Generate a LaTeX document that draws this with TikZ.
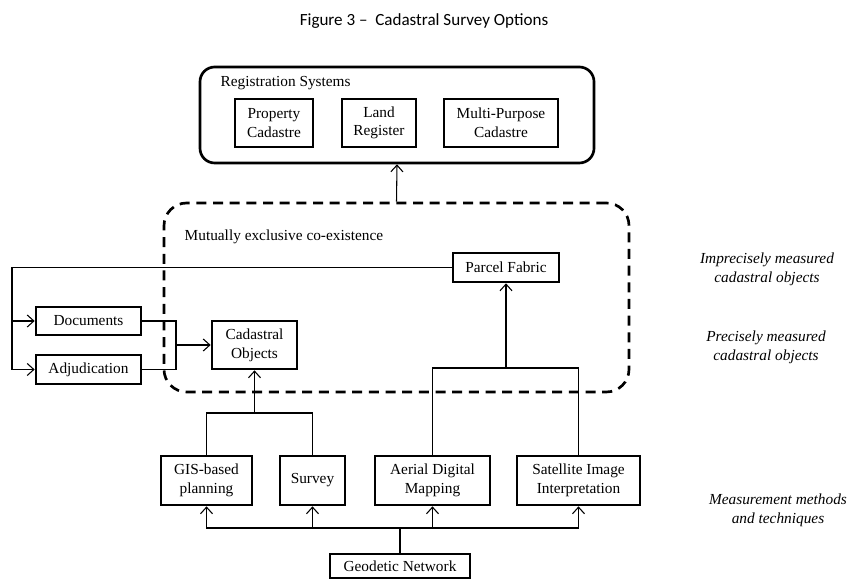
\documentclass[tikz,border=0pt]{standalone}
\usepackage{fontspec}
\setmainfont{Liberation Serif}
\newfontfamily\titlefont{Carlito}
\usetikzlibrary{arrows.meta}
\tikzset{
  box/.style={draw, line width=2pt, inner sep=0pt, align=center,
    font=\fontsize{11.5}{14}\selectfont},
  link/.style={line width=0.8pt},
  arr/.style={link, -{Straight Barb[length=5pt,width=9pt,line width=0.8pt]}},
  sidenote/.style={align=center, font=\fontsize{11.5}{14}\selectfont\itshape},
  plain/.style={font=\fontsize{11.5}{14}\selectfont}
}
\begin{document}
\begin{tikzpicture}[x=0.75pt,y=-0.75pt]
\useasboundingbox (0,0) rectangle (849,580);

% title
\node[font=\titlefont\fontsize{12.8}{15}\selectfont] (title) at (424,21) {Figure 3 –\ \ Cadastral Survey Options};

% registration systems
\node[draw, line width=2pt, rounded corners=11pt, minimum width=394*0.75pt,
      minimum height=96*0.75pt] (reg) at (397,115) {};
\node[plain, anchor=west] (reglbl) at (216,83) {Registration Systems};
\node[box, minimum width=78*0.75pt, minimum height=48*0.75pt] (prop) at (274,123) {Property\\Cadastre};
\node[box, minimum width=74*0.75pt, minimum height=48*0.75pt] (land) at (379,123) {Land\\Register};
\node[box, minimum width=114*0.75pt, minimum height=48*0.75pt] (multi) at (501,123) {Multi-Purpose\\Cadastre};

% co-existence area
\node[draw, line width=2pt, dash pattern=on 7.5pt off 5pt, rounded corners=17pt,
      minimum width=465*0.75pt, minimum height=189*0.75pt] (coex) at (396.5,297.5) {};
\node[plain, anchor=west] (coexlbl) at (180,237) {Mutually exclusive co-existence};

\node[box, minimum width=106*0.75pt, minimum height=29*0.75pt] (parcel) at (506,267.5) {Parcel Fabric};
\node[box, minimum width=85*0.75pt, minimum height=48*0.75pt] (cad) at (254.5,345) {Cadastral\\Objects};
\node[box, minimum width=105*0.75pt, minimum height=28*0.75pt] (docs) at (88.5,321) {Documents};
\node[box, minimum width=105*0.75pt, minimum height=29*0.75pt] (adj) at (88.5,369.5) {Adjudication};

% measurement methods
\node[box, minimum width=91*0.75pt, minimum height=49*0.75pt] (gis) at (206.5,480.5) {GIS-based\\planning};
\node[box, minimum width=65*0.75pt, minimum height=49*0.75pt] (survey) at (312.5,480.5) {Survey};
\node[box, minimum width=115*0.75pt, minimum height=49*0.75pt] (aerial) at (432.5,480.5) {Aerial Digital\\Mapping};
\node[box, minimum width=123*0.75pt, minimum height=49*0.75pt] (sat) at (578.5,480.5) {Satellite Image\\Interpretation};
\node[box, minimum width=140*0.75pt, minimum height=24*0.75pt] (geo) at (400,566) {Geodetic Network};

% side notes
\node[sidenote] (imprec) at (767,269) {Imprecisely measured\\cadastral objects};
\node[sidenote] (prec) at (766,347) {Precisely measured\\cadastral objects};
\node[sidenote] (meas) at (778,510) {Measurement methods\\and techniques};

% junction points
\coordinate (gj) at (400,528);
\coordinate (cj) at (254.5,413);
\coordinate (pj) at (506,368);
\coordinate (dj) at (176,345);
\coordinate (lt) at (12,267.5);

% geodetic network feeds every method
\draw[link] (geo.north) -- (gj);
\draw[arr] (gj) -| (gis.south);
\draw[arr] (gj) -| (survey.south);
\draw[arr] (gj) -| (aerial.south);
\draw[arr] (gj) -| (sat.south);

% methods to objects
\draw[link] (gis.north) |- (cj) -| (survey.north);
\draw[arr] (cj) -- (cad.south);
\draw[link] (aerial.north) |- (pj) -| (sat.north);
\draw[arr] (pj) -- (parcel.south);

% documents and adjudication to cadastral objects
\draw[link] (docs.east) -| (dj) |- (adj.east);
\draw[arr] (dj) -- (cad.west);

% parcel fabric back to documents and adjudication
\draw[arr] (parcel.west) -- (lt) |- (adj.west);
\draw[arr] (lt |- docs.west) -- (docs.west);

% co-existence to registration systems
\draw[arr] (coex.north) -- (reg.south);
\end{tikzpicture}
\end{document}
